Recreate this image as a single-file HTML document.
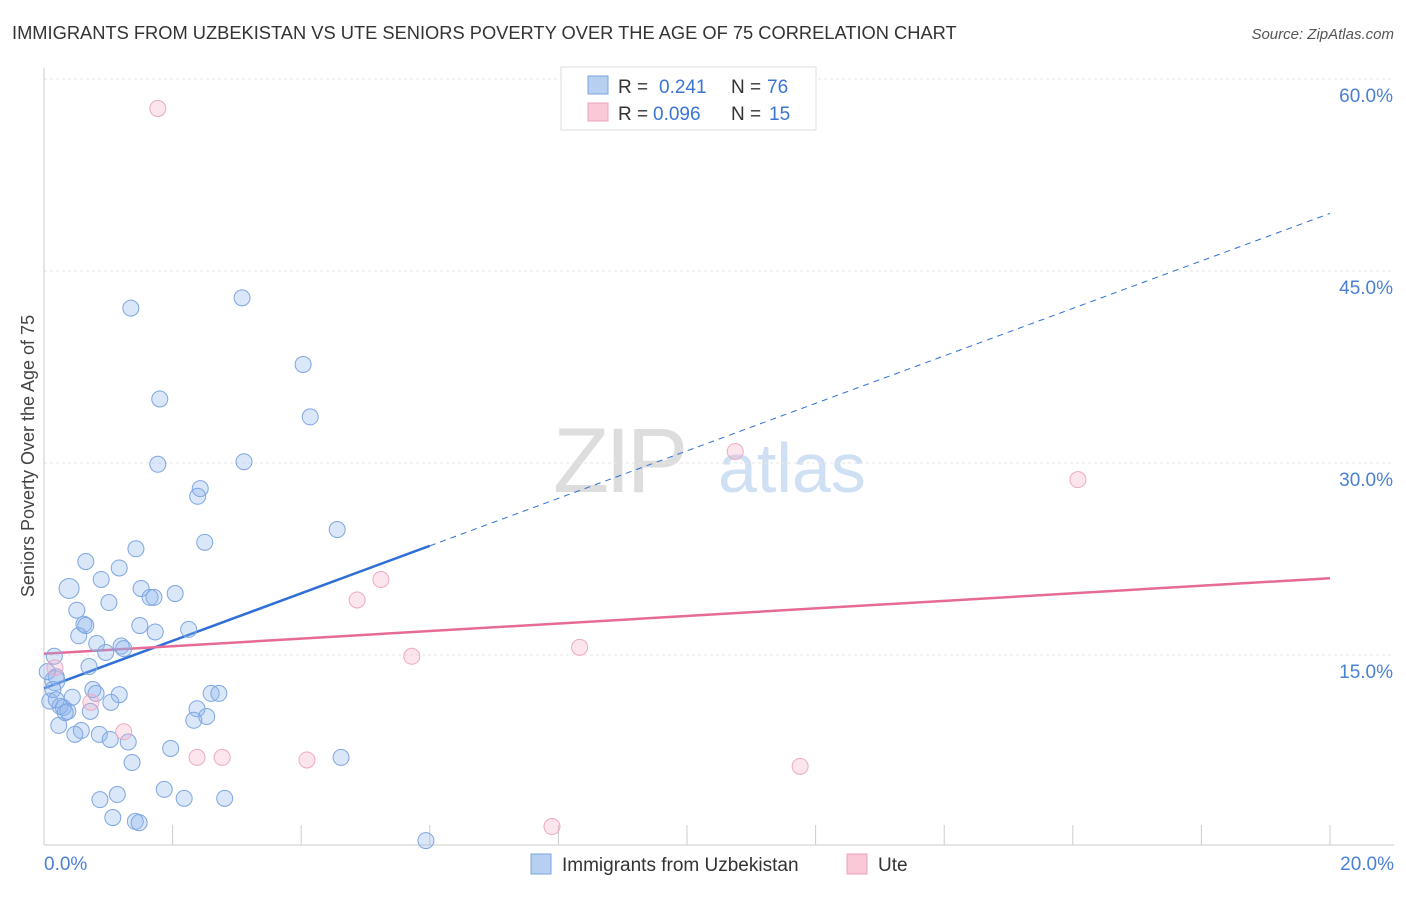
<!DOCTYPE html>
<html><head><meta charset="utf-8"><style>
body{margin:0;background:#fff;font-family:"Liberation Sans",sans-serif;}
svg text{font-family:"Liberation Sans",sans-serif;}
</style></head><body>
<svg id="chart" width="1406" height="892" xmlns="http://www.w3.org/2000/svg">
<text x="12" y="39" font-size="18.3" fill="#333">IMMIGRANTS FROM UZBEKISTAN VS UTE SENIORS POVERTY OVER THE AGE OF 75 CORRELATION CHART</text>
<text x="1394" y="39" font-size="15" fill="#555" text-anchor="end" font-style="italic">Source: ZipAtlas.com</text>
<g>
<text x="553" y="492" font-size="92" fill="#ddd" font-family="Liberation Serif" letter-spacing="-4">ZIP</text>
<text x="718" y="492" font-size="70" fill="#cfe0f5">atlas</text>
</g>
<g id="grid"></g>
<g id="axes"></g>
<g id="lines"></g>
<g id="points"></g>
<text transform="translate(34,456) rotate(-90)" font-size="18" fill="#444" text-anchor="middle">Seniors Poverty Over the Age of 75</text>
<g>
<rect x="561" y="67" width="255" height="63" fill="#fff" stroke="#ddd"/>
<rect x="588" y="76" width="20" height="18" fill="#b7d0f2" stroke="#7aa5e0"/>
<text x="618" y="93" font-size="19" fill="#333">R =</text><text x="659" y="93" font-size="19" fill="#3a74d4">0.241</text>
<text x="731" y="93" font-size="19" fill="#333">N =</text><text x="767" y="93" font-size="19" fill="#3a74d4">76</text>
<rect x="588" y="103" width="20" height="18" fill="#f9c9d8" stroke="#eca3bb"/>
<text x="618" y="120" font-size="19" fill="#333">R =</text><text x="653" y="120" font-size="19" fill="#3a74d4">0.096</text>
<text x="731" y="120" font-size="19" fill="#333">N =</text><text x="769" y="120" font-size="19" fill="#3a74d4">15</text>
</g>
<g>
<rect x="531" y="854" width="20" height="20" fill="#b7d0f2" stroke="#7aa5e0"/>
<text x="562" y="871" font-size="19" fill="#333">Immigrants from Uzbekistan</text>
<rect x="847" y="854" width="20" height="20" fill="#f9c9d8" stroke="#eca3bb"/>
<text x="878" y="871" font-size="19" fill="#333">Ute</text>
</g>
</svg>
<script>
const yTicks=[15,30,45,60];
const xTickLabels=["0.0%","20.0%"];
const blueX=[1.35,3.08,4.03,4.14,1.80,1.77,3.11,2.43,2.39,4.56,2.50,1.43,0.65,1.17,0.39,0.89,1.51,1.65,1.71,2.04,1.01,0.51,0.62,0.65,1.49,1.73,2.25,0.54,0.82,1.20,1.24,0.96,0.16,0.70,0.17,0.19,0.05,0.76,0.81,1.17,0.44,0.09,1.04,0.25,0.30,0.37,0.72,2.38,2.60,2.72,2.53,2.33,0.23,0.58,0.48,0.86,1.03,1.31,1.97,4.62,1.37,1.87,1.14,0.87,2.18,2.81,1.07,1.42,1.48,5.94,0.14,0.33,0.19];
const blueY=[42.1,42.9,37.7,33.6,35.0,29.9,30.1,28.0,27.4,24.8,23.8,23.3,22.3,21.8,20.2,20.9,20.2,19.5,19.5,19.8,19.1,18.5,17.4,17.3,17.3,16.8,17.0,16.5,15.9,15.7,15.5,15.2,14.9,14.1,13.0,13.3,13.7,12.3,12.0,11.9,11.7,11.4,11.3,11.0,10.9,10.6,10.6,10.8,12.0,12.0,10.2,9.9,9.5,9.1,8.8,8.8,8.4,8.2,7.7,7.0,6.6,4.5,4.1,3.7,3.8,3.8,2.3,2.0,1.9,0.5,12.3,10.5,11.5];
const pinkX=[1.77,10.75,16.08,5.24,4.87,8.33,5.72,0.17,0.73,1.24,2.38,2.77,4.09,11.76,7.90];
const pinkY=[57.7,30.9,28.7,20.9,19.3,15.6,14.9,14.0,11.3,9.0,7.0,7.0,6.8,6.3,1.6];
const blueFit=[12.4,49.5];
const pinkFit=[15.1,21.0];
const blueSolidEnd=6.0;

const NS="http://www.w3.org/2000/svg";
const X=v=>44+v*64.3, Y=v=>847-v*12.8;
function mk(p,t,a){const e=document.createElementNS(NS,t);for(const k in a)e.setAttribute(k,a[k]);document.getElementById(p).appendChild(e);return e;}
yTicks.forEach(t=>{
 const g=mk('grid','line',{x1:44,x2:1394,y1:Y(t),y2:Y(t),stroke:'#e6e6e6','stroke-dasharray':'3,3'});
 
 
 const l=mk('grid','text',{x:1393,y:Y(t)+23,'font-size':19,fill:'#4a80d8','text-anchor':'end'});
 l.textContent=t.toFixed(1)+'%';
 
 
});
const axY=mk('axes','line',{x1:44,x2:44,y1:68,y2:845,stroke:'#ccc'});


const axX=mk('axes','line',{x1:44,x2:1394,y1:845,y2:845,stroke:'#ccc'});


for(let i=2;i<=20;i+=2){const t=mk('axes','line',{x1:X(i),x2:X(i),y1:825,y2:845,stroke:'#ccc'});
 
 }
[[0,'start',44],[20,'end',1394]].forEach((d,i)=>{const t=mk('axes','text',{x:d[2],y:870,'font-size':19,fill:'#4a80d8','text-anchor':d[1]});t.textContent=xTickLabels[i];
 
 });
const bf=x=>blueFit[0]+(blueFit[1]-blueFit[0])*x/20, pf=x=>pinkFit[0]+(pinkFit[1]-pinkFit[0])*x/20;
let l1=mk('lines','line',{x1:X(0),y1:Y(bf(0)),x2:X(blueSolidEnd),y2:Y(bf(blueSolidEnd)),stroke:'#2f6fd6','stroke-width':2.5});


let l2=mk('lines','line',{x1:X(blueSolidEnd),y1:Y(bf(blueSolidEnd)),x2:X(20),y2:Y(bf(20)),stroke:'#2f6fd6','stroke-width':1,'stroke-dasharray':'6,5'});


let l3=mk('lines','line',{x1:X(0),y1:Y(pf(0)),x2:X(20),y2:Y(pf(20)),stroke:'#e66a95','stroke-width':2.5});


blueX.forEach((x,i)=>{const big=(i===14||i===34);const c=mk('points','circle',{cx:X(x),cy:Y(blueY[i]),r:big?10:8,fill:'rgba(140,180,235,0.32)',stroke:'#7ea6e2','stroke-width':1});
 
 });
pinkX.forEach((x,i)=>{const c=mk('points','circle',{cx:X(x),cy:Y(pinkY[i]),r:8,fill:'rgba(245,170,195,0.3)',stroke:'#eeaac0','stroke-width':1});
 
 });
</script>
</body></html>
